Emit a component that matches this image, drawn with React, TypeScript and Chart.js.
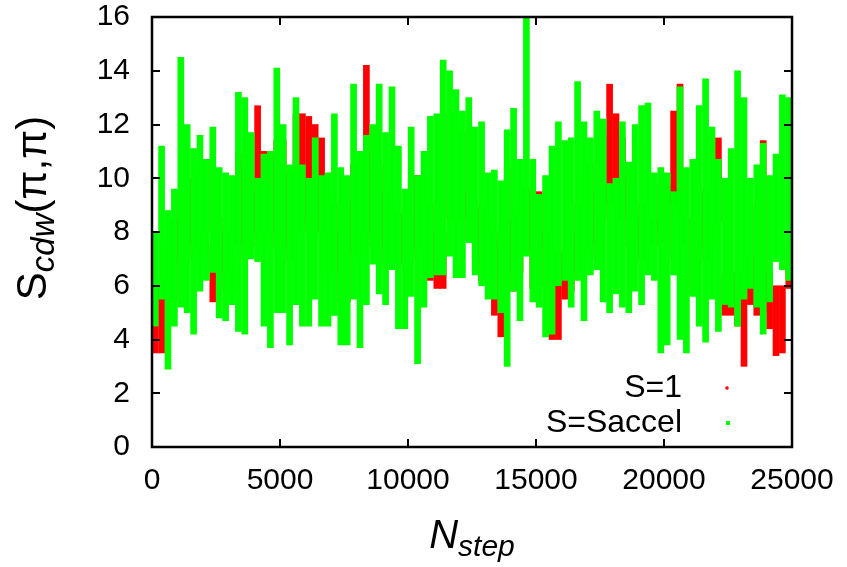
import React, { useEffect, useRef } from "react";
import { Chart, registerables } from "chart.js";
Chart.register(...registerables);

// Time-series, binned every 250 MC steps: upper / lower extent per bin
const BIN_WIDTH = 250;
const xTickValues = [0, 5000, 10000, 15000, 20000, 25000];
const yTickValues = [0, 2, 4, 6, 8, 10, 12, 14, 16];
const seriesLabels = ["S=1", "S=Saccel"];

const greenHi = [
  8.0, 11.2, 8.8, 9.6, 14.5, 12.0, 11.1, 11.6, 10.7, 11.9,
  10.4, 10.2, 10.1, 13.2, 13.0, 11.7, 10.0, 10.9, 11.0, 14.1,
  12.0, 10.5, 13.0, 10.5, 10.0, 11.5, 10.1, 10.2, 12.4, 10.4,
  10.1, 13.5, 11.0, 11.6, 12.0, 13.5, 11.7, 13.4, 11.2, 9.6,
  11.9, 10.1, 11.0, 12.3, 12.4, 14.4, 14.0, 13.3, 12.5, 13.0,
  11.9, 12.1, 10.2, 10.3, 9.9, 11.8, 12.6, 10.7, 16.0, 10.7,
  9.4, 10.1, 11.2, 12.1, 11.4, 11.5, 13.6, 12.1, 11.5, 12.5,
  12.2, 9.8, 10.0, 12.1, 10.6, 12.0, 12.7, 12.8, 10.2, 10.4,
  10.2, 9.5, 13.4, 10.4, 10.7, 12.7, 13.7, 11.9, 10.7, 10.0,
  11.1, 14.0, 13.0, 10.0, 10.5, 11.3, 10.1, 10.9, 13.1, 13.0,
];
const greenLo = [
  4.5, 5.5, 2.9, 4.5, 5.2, 5.0, 4.2, 5.8, 6.2, 6.5,
  4.8, 4.7, 5.3, 4.3, 4.2, 7.0, 6.9, 4.5, 3.7, 5.0,
  5.0, 3.8, 5.3, 4.5, 4.5, 5.5, 4.5, 4.5, 4.9, 3.8,
  3.8, 5.5, 3.7, 5.3, 6.8, 5.7, 5.3, 6.6, 4.4, 4.4,
  5.6, 3.1, 5.2, 6.3, 6.4, 6.4, 7.1, 6.3, 6.3, 7.6,
  6.4, 6.0, 5.5, 5.5, 5.0, 3.0, 5.8, 4.7, 7.1, 5.4,
  5.2, 4.1, 4.2, 6.0, 6.2, 5.2, 6.2, 4.7, 6.4, 6.6,
  5.4, 5.0, 5.7, 5.2, 5.0, 5.8, 5.3, 6.4, 6.2, 3.5,
  3.8, 6.4, 4.0, 3.5, 5.6, 4.5, 3.9, 5.5, 4.3, 5.3,
  5.2, 4.5, 5.5, 5.9, 5.2, 4.2, 5.4, 6.9, 6.6, 6.2,
];
const redHi = [
  6.0, 6.2, 7.5, 8.5, 9.5, 10.0, 10.0, 10.5, 10.7, 7.5,
  8.5, 8.0, 7.0, 10.9, 10.5, 9.5, 12.7, 11.0, 10.9, 11.4,
  11.4, 10.2, 12.4, 12.4, 12.3, 12.0, 11.5, 9.5, 9.0, 8.0,
  9.2, 10.5, 10.3, 14.2, 11.0, 10.5, 9.5, 9.0, 8.7, 8.7,
  10.0, 10.1, 10.1, 9.0, 8.0, 8.0, 12.4, 12.0, 11.7, 9.5,
  9.0, 8.9, 8.5, 8.0, 7.5, 10.4, 8.5, 9.0, 9.6, 9.5,
  9.5, 8.0, 7.3, 7.3, 7.0, 8.0, 9.0, 10.1, 10.5, 9.5,
  11.6, 13.5, 12.4, 11.5, 10.0, 8.5, 9.0, 8.5, 8.5, 9.8,
  9.8, 12.5, 13.5, 8.5, 7.6, 9.6, 9.5, 9.0, 11.5, 6.4,
  6.4, 6.5, 6.5, 7.1, 9.0, 11.4, 6.5, 6.0, 6.0, 7.5,
];
const redLo = [
  3.5, 3.5, 4.5, 5.5, 7.0, 7.0, 7.5, 7.0, 8.0, 5.4,
  5.8, 6.5, 5.7, 7.5, 7.0, 7.5, 8.0, 7.5, 8.0, 7.4,
  7.5, 7.0, 8.0, 8.0, 8.5, 8.0, 8.0, 6.5, 6.5, 5.4,
  5.4, 7.2, 7.0, 8.0, 7.5, 7.4, 6.8, 6.7, 6.8, 6.8,
  7.0, 7.4, 7.4, 6.2, 5.9, 5.9, 8.5, 8.5, 8.5, 7.7,
  7.0, 6.2, 6.2, 4.9, 4.1, 6.5, 5.8, 6.5, 7.3, 5.9,
  7.5, 6.0, 4.0, 4.0, 5.5, 5.8, 6.5, 7.0, 7.5, 7.0,
  8.5, 9.0, 9.4, 8.5, 7.5, 7.0, 7.0, 7.5, 7.5, 8.0,
  7.0, 9.0, 8.5, 7.5, 5.7, 7.5, 7.0, 7.5, 8.4, 4.9,
  4.9, 4.5, 3.0, 5.3, 4.9, 5.0, 4.4, 3.4, 3.5, 5.9,
];

const RED = "#ff0000";
const GREEN = "#00ff00";
const FONT = '"Liberation Sans", Arial, Helvetica, sans-serif';

function spans(hi: number[], lo: number[]) {
  return hi.map((h, i) => ({ x: i * BIN_WIDTH + BIN_WIDTH / 2, y: [lo[i], h] }));
}

const framePlugin = {
  id: "gnuplotFrame",
  afterDraw(chart: any) {
    const { ctx, chartArea: a, scales } = chart;
    const xs = scales.x;
    const ys = scales.y;
    ctx.save();
    ctx.strokeStyle = "#000";
    ctx.lineWidth = 2;
    const TL = 8;
    ctx.beginPath();
    xTickValues.forEach((v) => {
      const px = Math.round(xs.getPixelForValue(v));
      ctx.moveTo(px, a.bottom);
      ctx.lineTo(px, a.bottom - TL);
      ctx.moveTo(px, a.top);
      ctx.lineTo(px, a.top + TL);
    });
    yTickValues.forEach((v) => {
      const py = Math.round(ys.getPixelForValue(v));
      ctx.moveTo(a.left, py);
      ctx.lineTo(a.left + TL, py);
      ctx.moveTo(a.right, py);
      ctx.lineTo(a.right - TL, py);
    });
    ctx.stroke();
    ctx.lineWidth = 2.5;
    ctx.strokeRect(a.left, a.top, a.right - a.left, a.bottom - a.top);

    // legend
    ctx.fillStyle = "#000";
    ctx.font = `32px ${FONT}`;
    ctx.textAlign = "right";
    ctx.textBaseline = "middle";
    ctx.fillText(seriesLabels[0], 682, 388);
    ctx.fillText(seriesLabels[1], 682, 423);
    ctx.fillStyle = RED;
    ctx.beginPath();
    ctx.arc(727, 388, 1.8, 0, Math.PI * 2);
    ctx.fill();
    ctx.fillStyle = GREEN;
    ctx.fillRect(726, 421, 4, 4);

    // x title: N_step
    ctx.fillStyle = "#000";
    ctx.textAlign = "left";
    ctx.textBaseline = "alphabetic";
    ctx.font = `italic 40px ${FONT}`;
    const wN = ctx.measureText("N").width;
    ctx.font = `italic 30px ${FONT}`;
    const wStep = ctx.measureText("step").width;
    const cx = (a.left + a.right) / 2;
    const x0 = cx - (wN + wStep) / 2;
    ctx.font = `italic 40px ${FONT}`;
    ctx.fillText("N", x0, 548);
    ctx.font = `italic 30px ${FONT}`;
    ctx.fillText("step", x0 + wN, 556);

    // y title: S_cdw(π,π)
    ctx.font = `42px ${FONT}`;
    const wS = ctx.measureText("S").width;
    const wP = ctx.measureText("(π,π)").width;
    ctx.font = `italic 33px ${FONT}`;
    const wC = ctx.measureText("cdw").width;
    const total = wS + wC + wP;
    const cy = 208;
    ctx.translate(46, cy + total / 2);
    ctx.rotate(-Math.PI / 2);
    ctx.font = `42px ${FONT}`;
    ctx.fillText("S", 0, 0);
    ctx.font = `italic 33px ${FONT}`;
    ctx.fillText("cdw", wS, 8);
    ctx.font = `42px ${FONT}`;
    ctx.fillText("(π,π)", wS + wC, 0);
    ctx.restore();
  },
};

export default function App() {
  const ref = useRef<HTMLCanvasElement | null>(null);
  useEffect(() => {
    if (!ref.current) return;
    const chart = new Chart(ref.current, {
      type: "bar",
      data: {
        datasets: [
          {
            label: seriesLabels[0],
            data: spans(redHi, redLo) as any,
            backgroundColor: RED,
            borderWidth: 0,
            barThickness: 6,
            grouped: false,
            order: 2,
          },
          {
            label: seriesLabels[1],
            data: spans(greenHi, greenLo) as any,
            backgroundColor: GREEN,
            borderWidth: 0,
            barThickness: 6,
            grouped: false,
            order: 1,
          },
        ],
      },
      options: {
        animation: false,
        responsive: false,
        maintainAspectRatio: false,
        layout: { padding: { left: 0, right: 55, top: 17, bottom: 0 } },
        plugins: { legend: { display: false }, tooltip: { enabled: false } },
        scales: {
          x: {
            type: "linear",
            min: 0,
            max: 25000,
            offset: false,
            afterBuildTicks: (s: any) => {
              s.ticks = xTickValues.map((v) => ({ value: v }));
            },
            afterFit: (s: any) => {
              s.height = 120;
              s.paddingLeft = 0;
              s.paddingRight = 0;
            },
            ticks: {
              color: "#000",
              font: { family: FONT, size: 30 },
              padding: 16,
              maxRotation: 0,
              autoSkip: false,
              callback: (v: any) => String(v),
            },
            grid: { display: false, drawTicks: false, tickLength: 0, offset: false },
            border: { display: false },
          },
          y: {
            min: 0,
            max: 16,
            afterBuildTicks: (s: any) => {
              s.ticks = yTickValues.map((v) => ({ value: v }));
            },
            afterFit: (s: any) => {
              s.width = 152;
              s.paddingTop = 0;
              s.paddingBottom = 0;
            },
            ticks: {
              color: "#000",
              font: { family: FONT, size: 30 },
              padding: 22,
              autoSkip: false,
              callback: (v: any) => String(v),
            },
            grid: { display: false, drawTicks: false, tickLength: 0 },
            border: { display: false },
          },
        },
      },
      plugins: [framePlugin],
    });
    return () => chart.destroy();
  }, []);
  return (
    <div style={{ position: "fixed", left: 0, top: 0, width: 847, height: 567, background: "#fff" }}>
      <canvas ref={ref} width={847} height={567} style={{ width: 847, height: 567, display: "block" }} />
    </div>
  );
}
